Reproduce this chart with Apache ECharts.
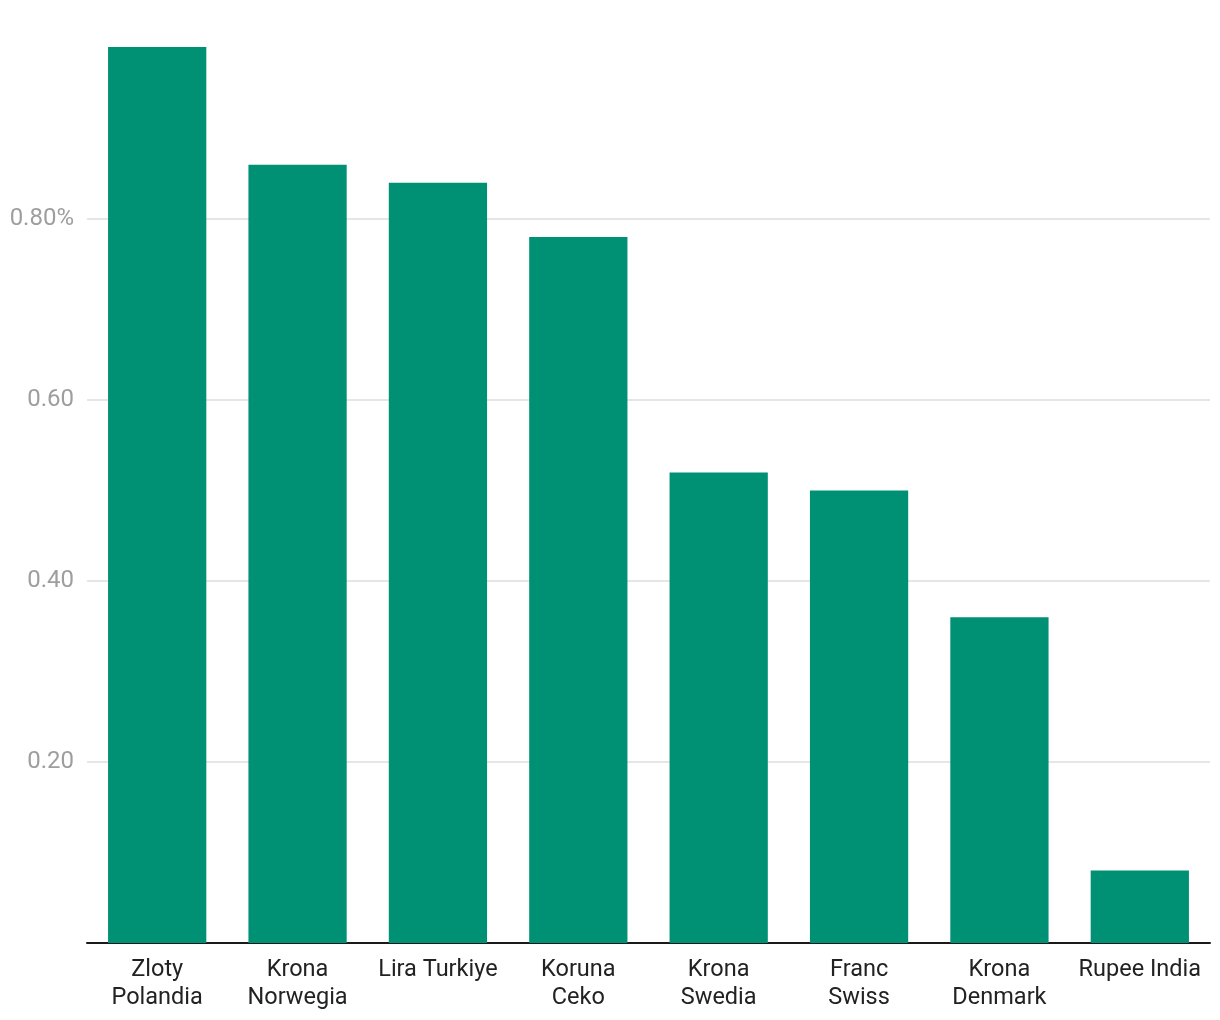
<!DOCTYPE html>
<html>
<head>
<meta charset="utf-8">
<style>
  html, body { margin: 0; padding: 0; background: #fff; }
  #main { width: 1220px; height: 1020px; }
</style>
<script src="https://cdn.jsdelivr.net/npm/echarts@6/dist/echarts.min.js"></script>
</head>
<body>
<div id="main"></div>
<script>
  var categories = ['Zloty\nPolandia', 'Krona\nNorwegia', 'Lira Turkiye', 'Koruna\nCeko',
    'Krona\nSwedia', 'Franc\nSwiss', 'Krona\nDenmark', 'Rupee India'];
  var values = [0.99, 0.86, 0.84, 0.78, 0.52, 0.50, 0.36, 0.08];
  var tickLabels = {'0.2': '0.20', '0.4': '0.40', '0.6': '0.60', '0.8': '0.80%'};

  var chart = echarts.init(document.getElementById('main'));
  chart.setOption({
    animation: false,
    textStyle: { fontFamily: 'Roboto' },
    grid: { left: 87, right: 10, top: 38, bottom: 77, containLabel: false },
    xAxis: {
      type: 'category',
      data: categories,
      axisLine: { lineStyle: { color: '#1a1a1a', width: 2 } },
      axisTick: { show: false },
      axisLabel: { color: '#222', fontSize: 23.5, lineHeight: 28, margin: 13, interval: 0 }
    },
    yAxis: {
      type: 'value',
      min: 0,
      max: 1,
      interval: 0.2,
      axisLine: { show: false },
      axisTick: { show: false },
      axisLabel: {
        color: '#9e9e9e',
        fontSize: 24,
        margin: 13,
        padding: [10, 0, 0, 0],
        showMinLabel: false,
        showMaxLabel: false,
        formatter: function (v) {
          return tickLabels[String(Math.round(v * 10) / 10)] || '';
        }
      },
      splitLine: {
        lineStyle: {
          color: ['#dedede', '#dedede', '#dedede', '#dedede', '#dedede', 'rgba(0,0,0,0)'],
          width: 1.5
        }
      }
    },
    series: [{
      type: 'bar',
      data: values,
      barWidth: '70%',
      itemStyle: { color: '#009175' }
    }]
  });
</script>
</body>
</html>
